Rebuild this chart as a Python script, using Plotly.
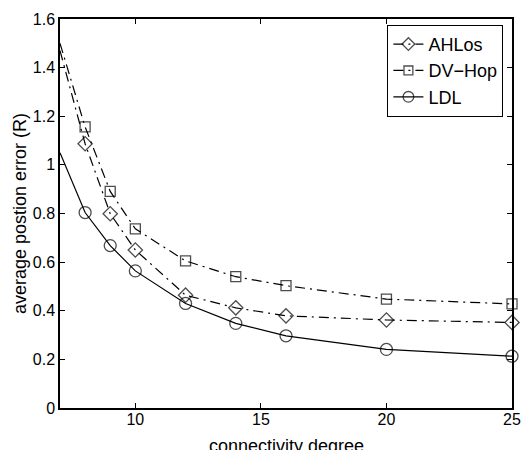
import plotly.graph_objects as go

x_deg = [7, 8, 9, 10, 12, 14, 16, 20, 25]
ahlos = [1.47, 1.087, 0.799, 0.650, 0.464, 0.412, 0.379, 0.362, 0.352]
dvhop = [1.50, 1.156, 0.891, 0.737, 0.605, 0.540, 0.503, 0.448, 0.428]
ldl = [1.05, 0.804, 0.668, 0.564, 0.430, 0.348, 0.297, 0.241, 0.213]

x_ticks = [10, 15, 20, 25]
y_ticks = [0, 0.2, 0.4, 0.6, 0.8, 1.0, 1.2, 1.4, 1.6]
y_tick_text = ["0", "0.2", "0.4", "0.6", "0.8", "1", "1.2", "1.4", "1.6"]

FONT = "Liberation Sans, Arial, Helvetica, sans-serif"

def msizes(base):
    return [0] + [base] * (len(x_deg) - 1)

fig = go.Figure()
fig.add_trace(go.Scatter(
    x=x_deg, y=ahlos, name="AHLos", mode="lines+markers",
    line=dict(color="black", width=1.2, dash="10px,5px,2px,5px"),
    marker=dict(symbol="diamond-open", size=msizes(11), color="black", line=dict(width=1.3, color="black")),
    cliponaxis=False,
))
fig.add_trace(go.Scatter(
    x=x_deg, y=dvhop, name="DV\u2212Hop", mode="lines+markers",
    line=dict(color="black", width=1.2, dash="10px,5px,2px,5px"),
    marker=dict(symbol="square-open", size=msizes(10), color="black", line=dict(width=1.3, color="black")),
    cliponaxis=False,
))
fig.add_trace(go.Scatter(
    x=x_deg, y=ldl, name="LDL", mode="lines+markers",
    line=dict(color="black", width=1.2),
    marker=dict(symbol="circle-open", size=msizes(12), color="black", line=dict(width=1.3, color="black")),
    cliponaxis=False,
))

fig.update_layout(
    width=524, height=450,
    margin=dict(l=60, r=12, t=19, b=42),
    paper_bgcolor="white", plot_bgcolor="white",
    font=dict(family=FONT, size=16, color="black"),
    showlegend=True,
    legend=dict(
        x=0.981, y=0.985, xanchor="right", yanchor="top",
        bgcolor="white", bordercolor="black", borderwidth=1,
        font=dict(size=18), tracegroupgap=0,
    ),
    annotations=[dict(
        text="connectivity degree", xref="paper", yref="paper",
        x=0.5, y=-0.066, xanchor="center", yanchor="top", showarrow=False,
        font=dict(size=18),
    )],
)
fig.update_xaxes(
    range=[7, 25], tickvals=x_ticks, ticks="inside", ticklen=5, tickcolor="black",
    showline=True, linecolor="black", linewidth=1.5, mirror="ticks",
    showgrid=False, zeroline=False, automargin=False,
    tickfont=dict(size=16), ticklabelstandoff=-4,
)
fig.update_yaxes(
    range=[0, 1.6], tickvals=y_ticks, ticktext=y_tick_text, ticks="inside", ticklen=5, tickcolor="black",
    showline=True, linecolor="black", linewidth=1.5, mirror="ticks",
    showgrid=False, zeroline=False, automargin=False,
    title=dict(text="average postion error (R)", standoff=1, font=dict(size=18)),
    tickfont=dict(size=16),
)

fig.write_html("out.html")
